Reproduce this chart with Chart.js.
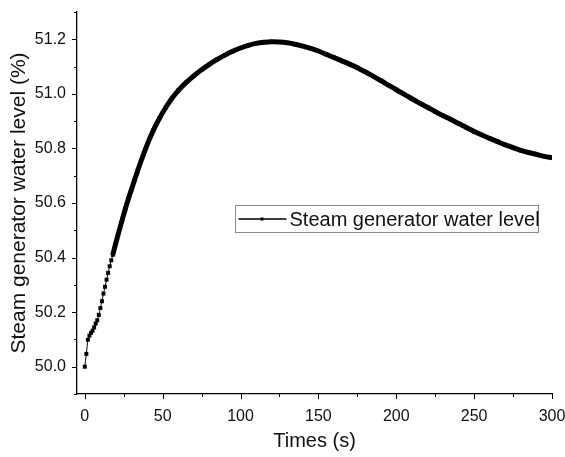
<!DOCTYPE html>
<html>
<head>
<meta charset="utf-8">
<script src="https://cdn.jsdelivr.net/npm/chart.js@4"></script>
<style>
html,body{margin:0;padding:0;background:#fff;}
#wrap{width:565px;height:457px;}
</style>
</head>
<body>
<div id="wrap"><canvas id="c" width="565" height="457"></canvas></div>
<script>
const seriesLabel = 'Steam generator water level';
const timeS = [0,1,2,3,4,5,6,7,8,9,10,11,12,13,14,15,16,17,18,
  20,22,24,26,28,30,32,34,36,38,40,44,48,52,56,60,65,70,75,80,85,90,95,100,
  105,110,115,120,125,130,135,140,145,150,155,160,165,170,175,180,185,190,195,200,
  205,210,215,220,225,230,235,240,245,250,255,260,265,270,275,280,285,290,295,300];
const waterLevel = [50.000,50.047,50.099,50.114,50.124,50.132,50.144,50.158,50.170,50.190,50.215,50.240,50.268,50.293,50.319,50.344,50.368,50.390,50.410,
  50.455,50.497,50.538,50.578,50.616,50.650,50.685,50.719,50.752,50.783,50.813,50.866,50.911,50.950,50.984,51.012,51.041,51.066,51.088,51.108,51.126,51.142,51.156,51.168,
  51.178,51.185,51.189,51.191,51.190,51.187,51.182,51.175,51.167,51.157,51.145,51.133,51.121,51.109,51.096,51.081,51.065,51.049,51.032,51.015,
  50.999,50.982,50.966,50.951,50.935,50.920,50.906,50.891,50.877,50.862,50.849,50.837,50.825,50.813,50.803,50.793,50.785,50.778,50.771,50.766];
const xTickValues = [0,25,50,75,100,125,150,175,200,225,250,275,300];
const xTickLabels = ['0','50','100','150','200','250','300'];
const yTickValues = [49.9,50.0,50.1,50.2,50.3,50.4,50.5,50.6,50.7,50.8,50.9,51.0,51.1,51.2,51.3];
const yTickLabels = ['50.0','50.2','50.4','50.6','50.8','51.0','51.2'];

const FONT = '"Liberation Sans", Arial, sans-serif';
const TXT = '#111';

const tickPlugin = {
  id: 'minorTicks',
  afterDraw(chart) {
    const ctx = chart.ctx, ca = chart.chartArea;
    const xs = chart.scales.x, ys = chart.scales.y;
    ctx.save();
    ctx.strokeStyle = '#000';
    ctx.lineWidth = 1;
    xTickValues.forEach(v => {
      const p = Math.round(xs.getPixelForValue(v)) + 0.5;
      const major = xTickLabels.includes(String(v));
      ctx.beginPath();
      ctx.moveTo(p, ca.bottom);
      ctx.lineTo(p, ca.bottom + (major ? 5 : 3));
      ctx.stroke();
    });
    yTickValues.forEach(v => {
      const p = Math.round(ys.getPixelForValue(v)) + 0.5;
      const major = yTickLabels.includes(v.toFixed(1));
      ctx.beginPath();
      ctx.moveTo(ca.left, p);
      ctx.lineTo(ca.left - (major ? 5 : 3), p);
      ctx.stroke();
    });
    // legend
    const lx = 235.5, ly = 205.5, lw = 303, lh = 27;
    ctx.strokeStyle = '#8a8a8a';
    ctx.lineWidth = 1;
    ctx.strokeRect(lx, ly, lw, lh);
    const cy = ly + lh / 2;
    ctx.strokeStyle = '#000';
    ctx.lineWidth = 1.5;
    ctx.beginPath();
    ctx.moveTo(lx + 3, cy);
    ctx.lineTo(lx + 51, cy);
    ctx.stroke();
    ctx.fillStyle = '#000';
    ctx.fillRect(lx + 25, cy - 1.5, 3, 3);
    ctx.fillStyle = TXT;
    ctx.font = '20px ' + FONT;
    ctx.textBaseline = 'middle';
    ctx.textAlign = 'left';
    ctx.fillText(chart.data.datasets[0].label, lx + 54, cy + 1);
    ctx.restore();
  }
};

new Chart(document.getElementById('c'), {
  type: 'line',
  data: {
    datasets: [{
      label: seriesLabel,
      data: timeS.map((t, i) => ({x: t, y: waterLevel[i]})),
      borderColor: '#000',
      backgroundColor: '#000',
      borderWidth: 1,
      pointStyle: 'rect',
      pointRadius: 2.8,
      pointBorderWidth: 0,
      pointBackgroundColor: '#000',
      cubicInterpolationMode: 'monotone',
      segment: {
        borderWidth: ctx => ctx.p0.parsed.x >= 18 ? 5 : 1
      }
    }]
  },
  options: {
    responsive: false,
    animation: false,
    devicePixelRatio: 1,
    layout: {padding: {left: 0, right: 13, top: 12, bottom: 0}},
    plugins: {legend: {display: false}, tooltip: {enabled: false}},
    scales: {
      x: {
        type: 'linear', min: -5, max: 300,
        afterBuildTicks: s => { s.ticks = xTickValues.map(v => ({value: v})); },
        afterFit: s => { s.height = 63; s.paddingLeft = 0; s.paddingRight = 0; },
        grid: {display: true, drawOnChartArea: false, drawTicks: false},
        border: {display: true, color: '#000', width: 1.3},
        ticks: {
          padding: 13, color: TXT, font: {size: 16, family: FONT},
          maxRotation: 0, autoSkip: false,
          callback: v => xTickLabels.includes(String(v)) ? String(v) : ''
        },
        title: {display: true, text: 'Times (s)', color: TXT, font: {size: 20, family: FONT}, padding: {top: 0, bottom: 4}}
      },
      y: {
        type: 'linear', min: 49.9, max: 51.3,
        afterBuildTicks: s => { s.ticks = yTickValues.map(v => ({value: v})); },
        afterFit: s => { s.width = 77; s.paddingTop = 0; s.paddingBottom = 0; },
        grid: {display: true, drawOnChartArea: false, drawTicks: false},
        border: {display: true, color: '#000', width: 1.3},
        ticks: {
          padding: 11, color: TXT, font: {size: 16, family: FONT}, autoSkip: false,
          callback: v => yTickLabels.includes(Number(v).toFixed(1)) ? Number(v).toFixed(1) : ''
        },
        title: {display: true, text: 'Steam generator water level (%)', color: TXT, font: {size: 21, family: FONT}, padding: {top: 7, bottom: 0}}
      }
    }
  },
  plugins: [tickPlugin]
});
</script>
</body>
</html>
